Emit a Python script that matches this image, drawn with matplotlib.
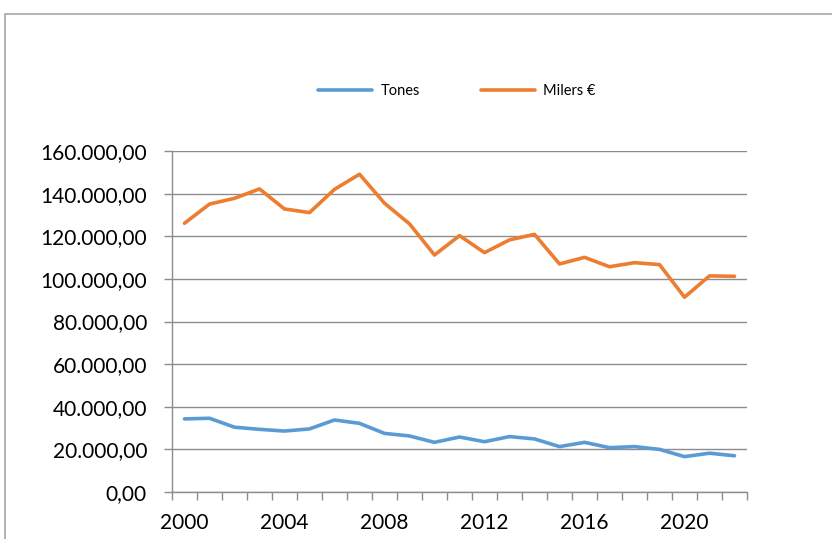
import matplotlib.pyplot as plt
from matplotlib.patches import Rectangle
from matplotlib.ticker import FuncFormatter, FixedLocator

years = list(range(2000, 2023))
tones = [34300, 34600, 30400, 29400, 28600, 29600, 33800, 32200, 27500, 26300,
         23300, 25800, 23600, 26000, 24900, 21300, 23300, 20800, 21300, 20000,
         16600, 18200, 17000]
milers = [126100, 135100, 137800, 142200, 132800, 131100, 142000, 149100, 135500, 125800,
          111200, 120300, 112300, 118300, 120900, 107000, 110100, 105700, 107600, 106700,
          91400, 101400, 101200]

plt.rcParams['font.family'] = ['Lato', 'DejaVu Sans']

fig = plt.figure(figsize=(8.32, 5.39), dpi=100)
# outer chart frame (runs off the right and bottom edges)
fig.patches.append(Rectangle((5 / 832, -0.1), 1.0, 1 - 14 / 539 + 0.1,
                             transform=fig.transFigure, fill=False,
                             edgecolor='#a6a6a6', linewidth=1.2))

ax = fig.add_axes([172 / 832, 1 - 492 / 539, 575 / 832, 341 / 539])
x = list(range(len(years)))
ax.plot(x, tones, color='#5B9BD5', linewidth=2.6, label='Tones', solid_capstyle='round')
ax.plot(x, milers, color='#ED7D31', linewidth=2.6, label='Milers €', solid_capstyle='round')

ax.set_xlim(-0.5, len(years) - 0.5)
ax.set_ylim(0, 160000)
ax.set_yticks(range(0, 160001, 20000))
ax.yaxis.set_major_formatter(FuncFormatter(
    lambda v, p: f"{v:,.2f}".replace(',', 'X').replace('.', ',').replace('X', '.')))
ax.grid(axis='y', color='#8c8c8c', linewidth=1)
ax.set_axisbelow(True)

ax.set_xticks([i for i, y in enumerate(years) if y % 4 == 0])
ax.set_xticklabels([str(y) for y in years if y % 4 == 0])
ax.xaxis.set_minor_locator(FixedLocator([i - 0.5 for i in range(len(years) + 1)]))
ax.tick_params(axis='x', which='major', length=0, pad=15, labelsize=15)
ax.tick_params(axis='x', which='minor', length=6, color='#8c8c8c', width=1)
ax.tick_params(axis='y', length=6, color='#8c8c8c', width=1, pad=12, labelsize=15)

for s in ['top', 'right']:
    ax.spines[s].set_visible(False)
for s in ['left', 'bottom']:
    ax.spines[s].set_color('#8c8c8c')
    ax.spines[s].set_linewidth(1)

fig.legend(loc='center', bbox_to_anchor=(457 / 832, 1 - 91 / 539), ncol=2,
           frameon=False, fontsize=10.5, handlelength=3.7, columnspacing=4.2,
           handletextpad=0.55)

fig.savefig('out.png', dpi=100)
